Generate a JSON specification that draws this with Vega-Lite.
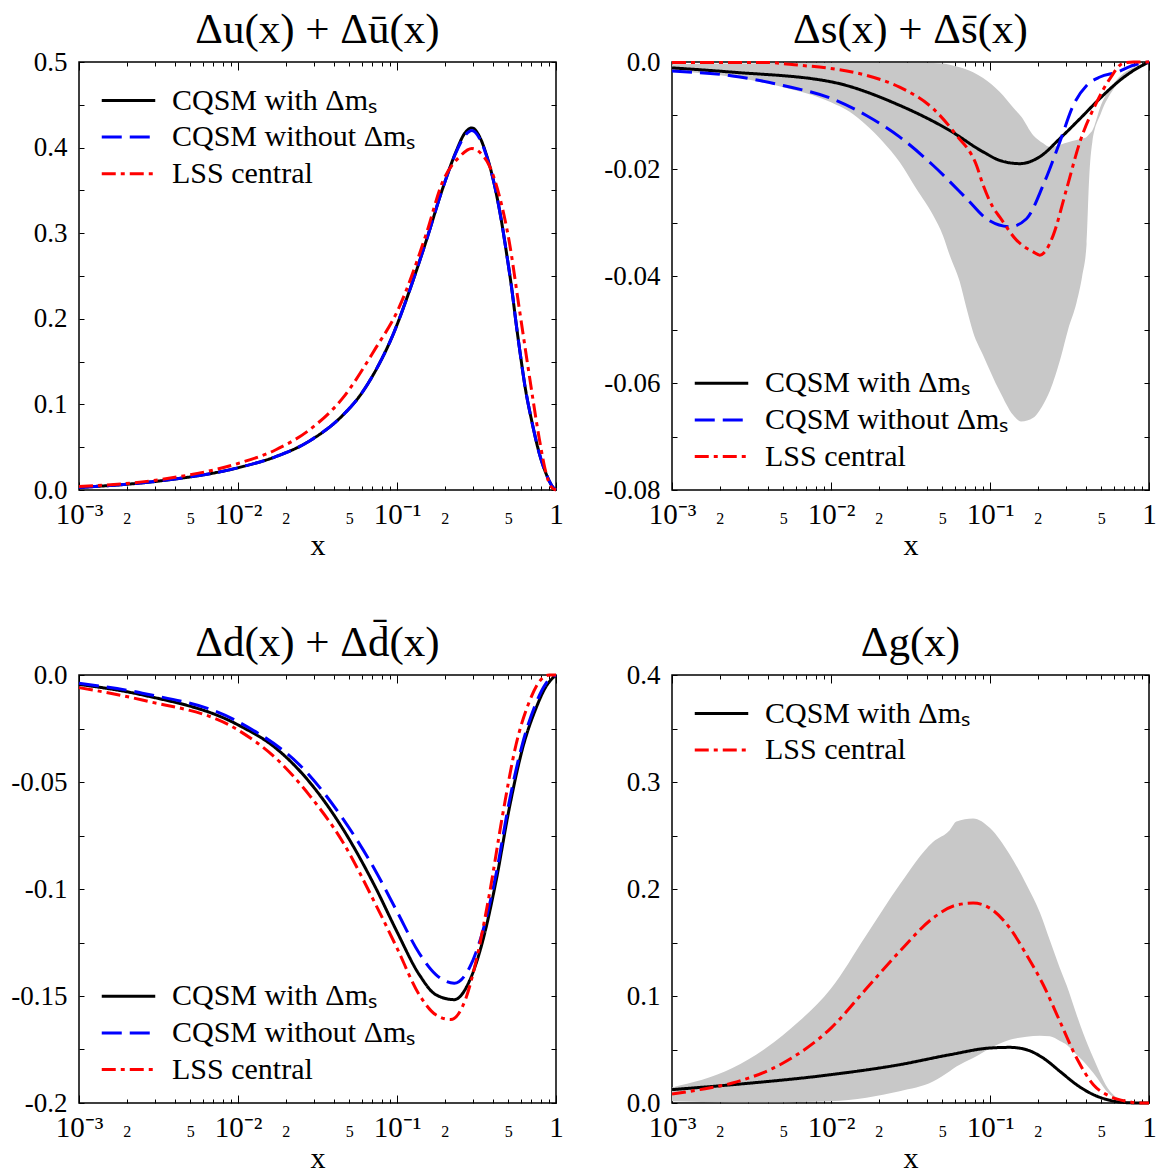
{
  "$schema": "https://vega.github.io/schema/vega-lite/v6.json",
  "padding": {"left": 0, "top": 7, "right": 5, "bottom": 0},
  "config": {
    "font": "Liberation Serif",
    "view": {"stroke": "black", "strokeWidth": 1.5},
    "title": {"font": "Liberation Serif", "fontSize": 43, "fontWeight": "normal", "color": "black", "baseline": "alphabetic", "offset": -3.5, "anchor": "middle"},
    "axis": {"domain": false, "grid": false, "tickColor": "black", "tickWidth": 1, "labelColor": "black", "labelFont": "Liberation Serif", "titleFont": "Liberation Serif", "titleColor": "black", "titleFontWeight": "normal", "labelFlush": false, "labelOverlap": false, "labelBound": false, "zindex": 1},
    "legend": {"labelFont": "Liberation Serif", "labelColor": "black"}
  },
  "datasets": {
    "tl": [
      {"x":0.001,"v":0.003,"s":"with"},{"x":0.00319,"v":0.0105,"s":"with"},{"x":0.01,"v":0.026,"s":"with"},{"x":0.0173,"v":0.039,"s":"with"},{"x":0.028,"v":0.057,"s":"with"},{"x":0.0454,"v":0.087,"s":"with"},{"x":0.0578,"v":0.109,"s":"with"},{"x":0.0736,"v":0.14,"s":"with"},{"x":0.0937,"v":0.18,"s":"with"},{"x":0.1194,"v":0.232,"s":"with"},{"x":0.152,"v":0.29,"s":"with"},{"x":0.1935,"v":0.352,"s":"with"},{"x":0.2347,"v":0.395,"s":"with"},{"x":0.265,"v":0.416,"s":"with"},{"x":0.296,"v":0.423,"s":"with"},{"x":0.33,"v":0.413,"s":"with"},{"x":0.366,"v":0.391,"s":"with"},{"x":0.415,"v":0.352,"s":"with"},{"x":0.455,"v":0.313,"s":"with"},{"x":0.491,"v":0.274,"s":"with"},{"x":0.527,"v":0.235,"s":"with"},{"x":0.56,"v":0.196,"s":"with"},{"x":0.598,"v":0.157,"s":"with"},{"x":0.641,"v":0.119,"s":"with"},{"x":0.705,"v":0.08,"s":"with"},{"x":0.79,"v":0.041,"s":"with"},{"x":0.88,"v":0.016,"s":"with"},{"x":0.95,"v":0.004,"s":"with"},{"x":1,"v":0,"s":"with"},
      {"x":0.001,"v":0.003,"s":"without"},{"x":0.00319,"v":0.0105,"s":"without"},{"x":0.01,"v":0.026,"s":"without"},{"x":0.0173,"v":0.039,"s":"without"},{"x":0.028,"v":0.057,"s":"without"},{"x":0.0454,"v":0.087,"s":"without"},{"x":0.0578,"v":0.109,"s":"without"},{"x":0.0736,"v":0.14,"s":"without"},{"x":0.0937,"v":0.18,"s":"without"},{"x":0.1194,"v":0.232,"s":"without"},{"x":0.152,"v":0.29,"s":"without"},{"x":0.1935,"v":0.352,"s":"without"},{"x":0.2347,"v":0.394,"s":"without"},{"x":0.265,"v":0.413,"s":"without"},{"x":0.296,"v":0.42,"s":"without"},{"x":0.33,"v":0.411,"s":"without"},{"x":0.366,"v":0.39,"s":"without"},{"x":0.415,"v":0.352,"s":"without"},{"x":0.455,"v":0.313,"s":"without"},{"x":0.491,"v":0.274,"s":"without"},{"x":0.527,"v":0.235,"s":"without"},{"x":0.56,"v":0.196,"s":"without"},{"x":0.598,"v":0.157,"s":"without"},{"x":0.641,"v":0.119,"s":"without"},{"x":0.705,"v":0.08,"s":"without"},{"x":0.79,"v":0.041,"s":"without"},{"x":0.88,"v":0.016,"s":"without"},{"x":0.95,"v":0.004,"s":"without"},{"x":1,"v":0,"s":"without"},
      {"x":0.001,"v":0.004,"s":"LSS"},{"x":0.00319,"v":0.012,"s":"LSS"},{"x":0.01,"v":0.031,"s":"LSS"},{"x":0.0173,"v":0.047,"s":"LSS"},{"x":0.028,"v":0.07,"s":"LSS"},{"x":0.0454,"v":0.107,"s":"LSS"},{"x":0.0736,"v":0.166,"s":"LSS"},{"x":0.1,"v":0.208,"s":"LSS"},{"x":0.152,"v":0.298,"s":"LSS"},{"x":0.1935,"v":0.36,"s":"LSS"},{"x":0.2464,"v":0.389,"s":"LSS"},{"x":0.296,"v":0.399,"s":"LSS"},{"x":0.3454,"v":0.391,"s":"LSS"},{"x":0.3805,"v":0.379,"s":"LSS"},{"x":0.4398,"v":0.344,"s":"LSS"},{"x":0.5083,"v":0.29,"s":"LSS"},{"x":0.5876,"v":0.212,"s":"LSS"},{"x":0.6792,"v":0.134,"s":"LSS"},{"x":0.785,"v":0.06,"s":"LSS"},{"x":0.865,"v":0.02,"s":"LSS"},{"x":0.93,"v":0.004,"s":"LSS"},{"x":1,"v":0,"s":"LSS"}
    ],
    "tr": [
      {"x":0.001,"v":-0.0011,"s":"with"},{"x":0.0024,"v":-0.0019,"s":"with"},{"x":0.01,"v":-0.0037,"s":"with"},{"x":0.027,"v":-0.0081,"s":"with"},{"x":0.0558,"v":-0.0128,"s":"with"},{"x":0.0905,"v":-0.0168,"s":"with"},{"x":0.1153,"v":-0.0184,"s":"with"},{"x":0.154,"v":-0.019,"s":"with"},{"x":0.2059,"v":-0.0177,"s":"with"},{"x":0.2752,"v":-0.0143,"s":"with"},{"x":0.368,"v":-0.0106,"s":"with"},{"x":0.4917,"v":-0.0068,"s":"with"},{"x":0.6577,"v":-0.0034,"s":"with"},{"x":0.7978,"v":-0.0016,"s":"with"},{"x":1,"v":0,"s":"with"},
      {"x":0.001,"v":-0.0017,"s":"without"},{"x":0.0024,"v":-0.0026,"s":"without"},{"x":0.005,"v":-0.0044,"s":"without"},{"x":0.01,"v":-0.0068,"s":"without"},{"x":0.0167,"v":-0.01,"s":"without"},{"x":0.027,"v":-0.014,"s":"without"},{"x":0.0438,"v":-0.0193,"s":"without"},{"x":0.0711,"v":-0.0255,"s":"without"},{"x":0.095,"v":-0.0293,"s":"without"},{"x":0.1333,"v":-0.0308,"s":"without"},{"x":0.1697,"v":-0.0293,"s":"without"},{"x":0.2161,"v":-0.023,"s":"without"},{"x":0.2752,"v":-0.0149,"s":"without"},{"x":0.334,"v":-0.0081,"s":"without"},{"x":0.4053,"v":-0.0044,"s":"without"},{"x":0.4917,"v":-0.0028,"s":"without"},{"x":0.63,"v":-0.0019,"s":"without"},{"x":0.7978,"v":-0.0006,"s":"without"},{"x":1,"v":0,"s":"without"},
      {"x":0.001,"v":-0.0001,"s":"LSS"},{"x":0.0039,"v":-0.0001,"s":"LSS"},{"x":0.0063,"v":-0.0006,"s":"LSS"},{"x":0.01,"v":-0.0012,"s":"LSS"},{"x":0.0167,"v":-0.0025,"s":"LSS"},{"x":0.027,"v":-0.0047,"s":"LSS"},{"x":0.0438,"v":-0.0087,"s":"LSS"},{"x":0.0615,"v":-0.0137,"s":"LSS"},{"x":0.0822,"v":-0.0193,"s":"LSS"},{"x":0.0905,"v":-0.023,"s":"LSS"},{"x":0.1046,"v":-0.0272,"s":"LSS"},{"x":0.1153,"v":-0.029,"s":"LSS"},{"x":0.1468,"v":-0.0333,"s":"LSS"},{"x":0.1869,"v":-0.0355,"s":"LSS"},{"x":0.2059,"v":-0.0361,"s":"LSS"},{"x":0.225,"v":-0.0352,"s":"LSS"},{"x":0.2497,"v":-0.0324,"s":"LSS"},{"x":0.3033,"v":-0.0237,"s":"LSS"},{"x":0.368,"v":-0.0149,"s":"LSS"},{"x":0.4691,"v":-0.0075,"s":"LSS"},{"x":0.5684,"v":-0.0031,"s":"LSS"},{"x":0.69,"v":-0.0002,"s":"LSS"},{"x":0.8,"v":0,"s":"LSS"},{"x":1,"v":0,"s":"LSS"}
    ],
    "trB": [
      {"x":0.001,"lo":-0.0017,"hi":-0.0004},{"x":0.0024,"lo":-0.0028,"hi":-0.0003},{"x":0.005,"lo":-0.0047,"hi":-0.0002},{"x":0.01,"lo":-0.0075,"hi":-0.0002},{"x":0.0131,"lo":-0.0093,"hi":-0.0002},{"x":0.0167,"lo":-0.0118,"hi":-0.0002},{"x":0.0212,"lo":-0.0149,"hi":-0.0002},{"x":0.027,"lo":-0.0187,"hi":-0.0002},{"x":0.0344,"lo":-0.0237,"hi":-0.0002},{"x":0.0438,"lo":-0.0286,"hi":-0.0002},{"x":0.0507,"lo":-0.0325,"hi":-0.0003},{"x":0.0558,"lo":-0.0361,"hi":-0.0005},{"x":0.0644,"lo":-0.041,"hi":-0.001},{"x":0.0711,"lo":-0.046,"hi":-0.0014},{"x":0.0783,"lo":-0.0505,"hi":-0.0019},{"x":0.0905,"lo":-0.0548,"hi":-0.003},{"x":0.1153,"lo":-0.0616,"hi":-0.0056},{"x":0.1398,"lo":-0.066,"hi":-0.0085},{"x":0.157,"lo":-0.0672,"hi":-0.0102},{"x":0.1869,"lo":-0.0665,"hi":-0.0137},{"x":0.2161,"lo":-0.064,"hi":-0.0152},{"x":0.2379,"lo":-0.0615,"hi":-0.0159},{"x":0.28,"lo":-0.055,"hi":-0.0154},{"x":0.31,"lo":-0.05,"hi":-0.015},{"x":0.35,"lo":-0.045,"hi":-0.0146},{"x":0.38,"lo":-0.04,"hi":-0.0143},{"x":0.405,"lo":-0.034,"hi":-0.014},{"x":0.42,"lo":-0.022,"hi":-0.0135},{"x":0.44,"lo":-0.015,"hi":-0.0128},{"x":0.5,"lo":-0.0095,"hi":-0.008},{"x":0.6,"lo":-0.005,"hi":-0.004},{"x":0.8,"lo":-0.0015,"hi":-0.001},{"x":1,"lo":0,"hi":0}
    ],
    "bl": [
      {"x":0.001,"v":-0.0044,"s":"with"},{"x":0.0025,"v":-0.0093,"s":"with"},{"x":0.01,"v":-0.0233,"s":"with"},{"x":0.0173,"v":-0.0342,"s":"with"},{"x":0.028,"v":-0.0498,"s":"with"},{"x":0.0454,"v":-0.0716,"s":"with"},{"x":0.0736,"v":-0.0996,"s":"with"},{"x":0.1,"v":-0.12,"s":"with"},{"x":0.138,"v":-0.14,"s":"with"},{"x":0.1756,"v":-0.1494,"s":"with"},{"x":0.2291,"v":-0.1517,"s":"with"},{"x":0.2847,"v":-0.1432,"s":"with"},{"x":0.3454,"v":-0.1245,"s":"with"},{"x":0.4191,"v":-0.0965,"s":"with"},{"x":0.5083,"v":-0.0623,"s":"with"},{"x":0.6166,"v":-0.0342,"s":"with"},{"x":0.748,"v":-0.0156,"s":"with"},{"x":0.865,"v":-0.0054,"s":"with"},{"x":1,"v":0,"s":"with"},
      {"x":0.001,"v":-0.0039,"s":"without"},{"x":0.0025,"v":-0.0085,"s":"without"},{"x":0.01,"v":-0.0218,"s":"without"},{"x":0.028,"v":-0.0467,"s":"without"},{"x":0.0454,"v":-0.0669,"s":"without"},{"x":0.0736,"v":-0.0918,"s":"without"},{"x":0.1,"v":-0.1105,"s":"without"},{"x":0.138,"v":-0.13,"s":"without"},{"x":0.1756,"v":-0.14,"s":"without"},{"x":0.2291,"v":-0.144,"s":"without"},{"x":0.2847,"v":-0.137,"s":"without"},{"x":0.3454,"v":-0.12,"s":"without"},{"x":0.4191,"v":-0.0934,"s":"without"},{"x":0.5083,"v":-0.0591,"s":"without"},{"x":0.6166,"v":-0.0319,"s":"without"},{"x":0.748,"v":-0.0132,"s":"without"},{"x":0.865,"v":-0.0039,"s":"without"},{"x":1,"v":0,"s":"without"},
      {"x":0.001,"v":-0.0059,"s":"LSS"},{"x":0.0025,"v":-0.0117,"s":"LSS"},{"x":0.01,"v":-0.0257,"s":"LSS"},{"x":0.0173,"v":-0.0389,"s":"LSS"},{"x":0.028,"v":-0.056,"s":"LSS"},{"x":0.0454,"v":-0.0778,"s":"LSS"},{"x":0.0736,"v":-0.1074,"s":"LSS"},{"x":0.1,"v":-0.1276,"s":"LSS"},{"x":0.138,"v":-0.1494,"s":"LSS"},{"x":0.1756,"v":-0.1588,"s":"LSS"},{"x":0.2183,"v":-0.161,"s":"LSS"},{"x":0.2713,"v":-0.151,"s":"LSS"},{"x":0.3135,"v":-0.134,"s":"LSS"},{"x":0.3805,"v":-0.1027,"s":"LSS"},{"x":0.4616,"v":-0.0654,"s":"LSS"},{"x":0.56,"v":-0.0327,"s":"LSS"},{"x":0.6792,"v":-0.0125,"s":"LSS"},{"x":0.7852,"v":-0.0031,"s":"LSS"},{"x":0.9075,"v":0,"s":"LSS"},{"x":1,"v":0,"s":"LSS"}
    ],
    "br": [
      {"x":0.001,"v":0.0125,"s":"with"},{"x":0.0024,"v":0.0171,"s":"with"},{"x":0.01,"v":0.0265,"s":"with"},{"x":0.027,"v":0.0358,"s":"with"},{"x":0.0558,"v":0.0451,"s":"with"},{"x":0.1,"v":0.0514,"s":"with"},{"x":0.1333,"v":0.052,"s":"with"},{"x":0.1697,"v":0.0498,"s":"with"},{"x":0.2161,"v":0.042,"s":"with"},{"x":0.2752,"v":0.0296,"s":"with"},{"x":0.3505,"v":0.0171,"s":"with"},{"x":0.4468,"v":0.0078,"s":"with"},{"x":0.5684,"v":0.0025,"s":"with"},{"x":0.7237,"v":0.0003,"s":"with"},{"x":0.85,"v":0,"s":"with"},{"x":1,"v":0,"s":"with"},
      {"x":0.001,"v":0.0084,"s":"LSS"},{"x":0.0015,"v":0.0125,"s":"LSS"},{"x":0.0024,"v":0.0187,"s":"LSS"},{"x":0.005,"v":0.0374,"s":"LSS"},{"x":0.01,"v":0.07,"s":"LSS"},{"x":0.0167,"v":0.107,"s":"LSS"},{"x":0.027,"v":0.1416,"s":"LSS"},{"x":0.0438,"v":0.1728,"s":"LSS"},{"x":0.0615,"v":0.185,"s":"LSS"},{"x":0.0783,"v":0.1868,"s":"LSS"},{"x":0.1,"v":0.182,"s":"LSS"},{"x":0.1333,"v":0.1634,"s":"LSS"},{"x":0.1697,"v":0.1385,"s":"LSS"},{"x":0.2161,"v":0.1105,"s":"LSS"},{"x":0.2752,"v":0.0763,"s":"LSS"},{"x":0.3505,"v":0.042,"s":"LSS"},{"x":0.4468,"v":0.0171,"s":"LSS"},{"x":0.5684,"v":0.0062,"s":"LSS"},{"x":0.7237,"v":0.0016,"s":"LSS"},{"x":0.85,"v":0,"s":"LSS"},{"x":1,"v":0,"s":"LSS"}
    ],
    "brB": [
      {"x":0.001,"lo":0.0016,"hi":0.0146},{"x":0.0024,"lo":0.0006,"hi":0.0327},{"x":0.0039,"lo":0.0006,"hi":0.0514},{"x":0.0063,"lo":0.001,"hi":0.0763},{"x":0.01,"lo":0.0016,"hi":0.107},{"x":0.0167,"lo":0.005,"hi":0.157},{"x":0.027,"lo":0.011,"hi":0.204},{"x":0.0438,"lo":0.02,"hi":0.244},{"x":0.0558,"lo":0.0296,"hi":0.255},{"x":0.0615,"lo":0.034,"hi":0.263},{"x":0.0783,"lo":0.042,"hi":0.266},{"x":0.1,"lo":0.051,"hi":0.257},{"x":0.1333,"lo":0.059,"hi":0.232},{"x":0.1697,"lo":0.062,"hi":0.204},{"x":0.2059,"lo":0.0629,"hi":0.178},{"x":0.2379,"lo":0.0623,"hi":0.152},{"x":0.2752,"lo":0.058,"hi":0.126},{"x":0.3033,"lo":0.0545,"hi":0.11},{"x":0.3505,"lo":0.045,"hi":0.0825},{"x":0.3862,"lo":0.039,"hi":0.065},{"x":0.4468,"lo":0.028,"hi":0.042},{"x":0.5684,"lo":0.0078,"hi":0.011},{"x":0.7237,"lo":0.001,"hi":0.0016},{"x":1,"lo":0,"hi":0}
    ]
  },
  "columns": 2,
  "spacing": {"row": 185, "column": 116},
  "bounds": "flush",
  "resolve": {"scale": {"color": "independent", "strokeDash": "independent"}, "legend": {"color": "independent", "strokeDash": "independent"}},
  "concat": [
    {
      "width": 477, "height": 428,
      "title": {"text": "Δu(x) + Δū(x)"},
      "data": {"name": "tl"},
      "layer": [
        {
          "mark": {"type": "line", "strokeWidth": 3, "interpolate": "monotone"},
          "encoding": {
            "x": {"field": "x", "type": "quantitative", "scale": {"type": "log", "domain": [0.001, 1], "nice": false},
              "axis": {"orient": "bottom", "values": [0.001,0.002,0.005,0.01,0.02,0.05,0.1,0.2,0.5,1], "labelExpr": "datum.value==0.001?'10⁻³':datum.value==0.01?'10⁻²':datum.value==0.1?'10⁻¹':datum.value==1?'1':(datum.value==0.002||datum.value==0.02||datum.value==0.2)?'2':'5'", "ticks": false, "tickSize": 0, "labelFont": "Liberation Serif", "labelFontSize": {"condition": {"test": "datum.value==0.001||datum.value==0.01||datum.value==0.1||datum.value==1", "value": 29}, "value": 16}, "labelBaseline": "alphabetic", "labelPadding": 33, "labelAlign": "center", "title": "x", "titleFont": "Liberation Serif", "titleFontSize": 30, "titlePadding": 1}},
            "y": {"field": "v", "type": "quantitative", "scale": {"domain": [0, 0.5], "nice": false, "zero": false},
              "axis": {"orient": "left", "values": [0,0.1,0.2,0.3,0.4,0.5], "labelExpr": "format(datum.value,'.1f')", "ticks": false, "tickSize": 0, "labelFont": "Liberation Serif", "labelFontSize": 27, "labelPadding": 12, "title": null, "minExtent": 78}},
            "color": {"field": "s", "type": "nominal", "scale": {"domain": ["with","without","LSS"], "range": ["#000000","#0000ff","#ff0000"]},
              "legend": {"orient": "none", "legendX": 21, "legendY": 21.5, "title": null, "symbolType": "stroke", "symbolSize": 2862, "symbolStrokeWidth": 3, "labelFont": "Liberation Serif", "labelFontSize": 30, "labelOffset": 15, "clipHeight": 34, "rowPadding": 2.6, "padding": 0, "labelLimit": 0, "labelExpr": "datum.label=='with'?'CQSM with Δmₛ':datum.label=='without'?'CQSM without Δmₛ':'LSS central'"}},
            "strokeDash": {"field": "s", "type": "nominal", "scale": {"domain": ["with","without","LSS"], "range": [[1,0],[20,8],[14,5,4,5]]},
              "legend": {"orient": "none", "legendX": 21, "legendY": 21.5, "title": null, "symbolType": "stroke", "symbolSize": 2862, "symbolStrokeWidth": 3, "labelFont": "Liberation Serif", "labelFontSize": 30, "labelOffset": 15, "clipHeight": 34, "rowPadding": 2.6, "padding": 0, "labelLimit": 0, "labelExpr": "datum.label=='with'?'CQSM with Δmₛ':datum.label=='without'?'CQSM without Δmₛ':'LSS central'"}}
          }
        },
        {
          "mark": {"type": "point", "opacity": 0},
          "encoding": {
            "x": {"field": "x", "type": "quantitative", "scale": {"type": "log", "domain": [0.001, 1], "nice": false},
              "axis": {"orient": "bottom", "values": [0.001,0.002,0.003,0.004,0.005,0.006,0.007,0.008,0.009,0.01,0.02,0.03,0.04,0.05,0.06,0.07,0.08,0.09,0.1,0.2,0.3,0.4,0.5,0.6,0.7,0.8,0.9,1], "labels": false, "tickSize": {"condition": {"test": "datum.value==0.001||datum.value==0.01||datum.value==0.1||datum.value==1", "value": -8}, "value": -4}, "title": null}},
            "y": {"field": "v", "type": "quantitative", "scale": {"domain": [0, 0.5], "nice": false, "zero": false},
              "axis": {"orient": "left", "values": [0,0.05,0.1,0.15,0.2,0.25,0.3,0.35,0.4,0.45,0.5], "labels": false, "tickSize": -5, "title": null}}
          }
        },
        {
          "mark": {"type": "point", "opacity": 0},
          "encoding": {
            "x": {"field": "x", "type": "quantitative", "scale": {"type": "log", "domain": [0.001, 1], "nice": false},
              "axis": {"orient": "top", "values": [0.001,0.002,0.003,0.004,0.005,0.006,0.007,0.008,0.009,0.01,0.02,0.03,0.04,0.05,0.06,0.07,0.08,0.09,0.1,0.2,0.3,0.4,0.5,0.6,0.7,0.8,0.9,1], "labels": false, "tickSize": {"condition": {"test": "datum.value==0.001||datum.value==0.01||datum.value==0.1||datum.value==1", "value": -8}, "value": -4}, "title": null}},
            "y": {"field": "v", "type": "quantitative", "scale": {"domain": [0, 0.5], "nice": false, "zero": false},
              "axis": {"orient": "right", "values": [0,0.05,0.1,0.15,0.2,0.25,0.3,0.35,0.4,0.45,0.5], "labels": false, "tickSize": -5, "title": null}}
          }
        }
      ],
      "resolve": {"axis": {"x": "independent", "y": "independent"}}
    },
    {
      "width": 477, "height": 428,
      "title": {"text": "Δs(x) + Δs̄(x)"},
      "layer": [
        {
          "data": {"name": "trB"},
          "mark": {"type": "area", "color": "#c8c8c8", "interpolate": "monotone"},
          "encoding": {
            "x": {"field": "x", "type": "quantitative", "scale": {"type": "log", "domain": [0.001, 1], "nice": false}, "axis": null},
            "y": {"field": "lo", "type": "quantitative", "scale": {"domain": [-0.08, 0], "nice": false, "zero": false}, "axis": null},
            "y2": {"field": "hi"}
          }
        },
        {
          "data": {"name": "tr"},
          "mark": {"type": "line", "strokeWidth": 3, "interpolate": "monotone"},
          "encoding": {
            "x": {"field": "x", "type": "quantitative", "scale": {"type": "log", "domain": [0.001, 1], "nice": false},
              "axis": {"orient": "bottom", "values": [0.001,0.002,0.005,0.01,0.02,0.05,0.1,0.2,0.5,1], "labelExpr": "datum.value==0.001?'10⁻³':datum.value==0.01?'10⁻²':datum.value==0.1?'10⁻¹':datum.value==1?'1':(datum.value==0.002||datum.value==0.02||datum.value==0.2)?'2':'5'", "ticks": false, "tickSize": 0, "labelFont": "Liberation Serif", "labelFontSize": {"condition": {"test": "datum.value==0.001||datum.value==0.01||datum.value==0.1||datum.value==1", "value": 29}, "value": 16}, "labelBaseline": "alphabetic", "labelPadding": 33, "labelAlign": "center", "title": "x", "titleFont": "Liberation Serif", "titleFontSize": 30, "titlePadding": 1}},
            "y": {"field": "v", "type": "quantitative", "scale": {"domain": [-0.08, 0], "nice": false, "zero": false},
              "axis": {"orient": "left", "values": [0,-0.02,-0.04,-0.06,-0.08], "labelExpr": "datum.value==0?'0.0':'-'+format(abs(datum.value),'.2f')", "ticks": false, "tickSize": 0, "labelFont": "Liberation Serif", "labelFontSize": 27, "labelPadding": 12, "title": null, "minExtent": 78}},
            "color": {"field": "s", "type": "nominal", "scale": {"domain": ["with","without","LSS"], "range": ["#000000","#0000ff","#ff0000"]},
              "legend": {"orient": "none", "legendX": 21, "legendY": 304.3, "title": null, "symbolType": "stroke", "symbolSize": 2862, "symbolStrokeWidth": 3, "labelFont": "Liberation Serif", "labelFontSize": 30, "labelOffset": 15, "clipHeight": 34, "rowPadding": 2.6, "padding": 0, "labelLimit": 0, "labelExpr": "datum.label=='with'?'CQSM with Δmₛ':datum.label=='without'?'CQSM without Δmₛ':'LSS central'"}},
            "strokeDash": {"field": "s", "type": "nominal", "scale": {"domain": ["with","without","LSS"], "range": [[1,0],[20,8],[14,5,4,5]]},
              "legend": {"orient": "none", "legendX": 21, "legendY": 304.3, "title": null, "symbolType": "stroke", "symbolSize": 2862, "symbolStrokeWidth": 3, "labelFont": "Liberation Serif", "labelFontSize": 30, "labelOffset": 15, "clipHeight": 34, "rowPadding": 2.6, "padding": 0, "labelLimit": 0, "labelExpr": "datum.label=='with'?'CQSM with Δmₛ':datum.label=='without'?'CQSM without Δmₛ':'LSS central'"}}
          }
        },
        {
          "data": {"name": "tr"},
          "mark": {"type": "point", "opacity": 0},
          "encoding": {
            "x": {"field": "x", "type": "quantitative", "scale": {"type": "log", "domain": [0.001, 1], "nice": false},
              "axis": {"orient": "bottom", "values": [0.001,0.002,0.003,0.004,0.005,0.006,0.007,0.008,0.009,0.01,0.02,0.03,0.04,0.05,0.06,0.07,0.08,0.09,0.1,0.2,0.3,0.4,0.5,0.6,0.7,0.8,0.9,1], "labels": false, "tickSize": {"condition": {"test": "datum.value==0.001||datum.value==0.01||datum.value==0.1||datum.value==1", "value": -8}, "value": -4}, "title": null}},
            "y": {"field": "v", "type": "quantitative", "scale": {"domain": [-0.08, 0], "nice": false, "zero": false},
              "axis": {"orient": "left", "values": [0,-0.01,-0.02,-0.03,-0.04,-0.05,-0.06,-0.07,-0.08], "labels": false, "tickSize": -5, "title": null}}
          }
        },
        {
          "data": {"name": "tr"},
          "mark": {"type": "point", "opacity": 0},
          "encoding": {
            "x": {"field": "x", "type": "quantitative", "scale": {"type": "log", "domain": [0.001, 1], "nice": false},
              "axis": {"orient": "top", "values": [0.001,0.002,0.003,0.004,0.005,0.006,0.007,0.008,0.009,0.01,0.02,0.03,0.04,0.05,0.06,0.07,0.08,0.09,0.1,0.2,0.3,0.4,0.5,0.6,0.7,0.8,0.9,1], "labels": false, "tickSize": {"condition": {"test": "datum.value==0.001||datum.value==0.01||datum.value==0.1||datum.value==1", "value": -8}, "value": -4}, "title": null}},
            "y": {"field": "v", "type": "quantitative", "scale": {"domain": [-0.08, 0], "nice": false, "zero": false},
              "axis": {"orient": "right", "values": [0,-0.01,-0.02,-0.03,-0.04,-0.05,-0.06,-0.07,-0.08], "labels": false, "tickSize": -5, "title": null}}
          }
        }
      ],
      "resolve": {"axis": {"x": "independent", "y": "independent"}}
    },
    {
      "width": 477, "height": 428,
      "title": {"text": "Δd(x) + Δd̄(x)"},
      "data": {"name": "bl"},
      "layer": [
        {
          "mark": {"type": "line", "strokeWidth": 3, "interpolate": "monotone"},
          "encoding": {
            "x": {"field": "x", "type": "quantitative", "scale": {"type": "log", "domain": [0.001, 1], "nice": false},
              "axis": {"orient": "bottom", "values": [0.001,0.002,0.005,0.01,0.02,0.05,0.1,0.2,0.5,1], "labelExpr": "datum.value==0.001?'10⁻³':datum.value==0.01?'10⁻²':datum.value==0.1?'10⁻¹':datum.value==1?'1':(datum.value==0.002||datum.value==0.02||datum.value==0.2)?'2':'5'", "ticks": false, "tickSize": 0, "labelFont": "Liberation Serif", "labelFontSize": {"condition": {"test": "datum.value==0.001||datum.value==0.01||datum.value==0.1||datum.value==1", "value": 29}, "value": 16}, "labelBaseline": "alphabetic", "labelPadding": 33, "labelAlign": "center", "title": "x", "titleFont": "Liberation Serif", "titleFontSize": 30, "titlePadding": 1}},
            "y": {"field": "v", "type": "quantitative", "scale": {"domain": [-0.2, 0], "nice": false, "zero": false},
              "axis": {"orient": "left", "values": [0,-0.05,-0.1,-0.15,-0.2], "labelExpr": "datum.value==0?'0.0':'-'+format(abs(datum.value),'~g')", "ticks": false, "tickSize": 0, "labelFont": "Liberation Serif", "labelFontSize": 27, "labelPadding": 12, "title": null, "minExtent": 78}},
            "color": {"field": "s", "type": "nominal", "scale": {"domain": ["with","without","LSS"], "range": ["#000000","#0000ff","#ff0000"]},
              "legend": {"orient": "none", "legendX": 21, "legendY": 304.3, "title": null, "symbolType": "stroke", "symbolSize": 2862, "symbolStrokeWidth": 3, "labelFont": "Liberation Serif", "labelFontSize": 30, "labelOffset": 15, "clipHeight": 34, "rowPadding": 2.6, "padding": 0, "labelLimit": 0, "labelExpr": "datum.label=='with'?'CQSM with Δmₛ':datum.label=='without'?'CQSM without Δmₛ':'LSS central'"}},
            "strokeDash": {"field": "s", "type": "nominal", "scale": {"domain": ["with","without","LSS"], "range": [[1,0],[20,8],[14,5,4,5]]},
              "legend": {"orient": "none", "legendX": 21, "legendY": 304.3, "title": null, "symbolType": "stroke", "symbolSize": 2862, "symbolStrokeWidth": 3, "labelFont": "Liberation Serif", "labelFontSize": 30, "labelOffset": 15, "clipHeight": 34, "rowPadding": 2.6, "padding": 0, "labelLimit": 0, "labelExpr": "datum.label=='with'?'CQSM with Δmₛ':datum.label=='without'?'CQSM without Δmₛ':'LSS central'"}}
          }
        },
        {
          "mark": {"type": "point", "opacity": 0},
          "encoding": {
            "x": {"field": "x", "type": "quantitative", "scale": {"type": "log", "domain": [0.001, 1], "nice": false},
              "axis": {"orient": "bottom", "values": [0.001,0.002,0.003,0.004,0.005,0.006,0.007,0.008,0.009,0.01,0.02,0.03,0.04,0.05,0.06,0.07,0.08,0.09,0.1,0.2,0.3,0.4,0.5,0.6,0.7,0.8,0.9,1], "labels": false, "tickSize": {"condition": {"test": "datum.value==0.001||datum.value==0.01||datum.value==0.1||datum.value==1", "value": -8}, "value": -4}, "title": null}},
            "y": {"field": "v", "type": "quantitative", "scale": {"domain": [-0.2, 0], "nice": false, "zero": false},
              "axis": {"orient": "left", "values": [0,-0.025,-0.05,-0.075,-0.1,-0.125,-0.15,-0.175,-0.2], "labels": false, "tickSize": -5, "title": null}}
          }
        },
        {
          "mark": {"type": "point", "opacity": 0},
          "encoding": {
            "x": {"field": "x", "type": "quantitative", "scale": {"type": "log", "domain": [0.001, 1], "nice": false},
              "axis": {"orient": "top", "values": [0.001,0.002,0.003,0.004,0.005,0.006,0.007,0.008,0.009,0.01,0.02,0.03,0.04,0.05,0.06,0.07,0.08,0.09,0.1,0.2,0.3,0.4,0.5,0.6,0.7,0.8,0.9,1], "labels": false, "tickSize": {"condition": {"test": "datum.value==0.001||datum.value==0.01||datum.value==0.1||datum.value==1", "value": -8}, "value": -4}, "title": null}},
            "y": {"field": "v", "type": "quantitative", "scale": {"domain": [-0.2, 0], "nice": false, "zero": false},
              "axis": {"orient": "right", "values": [0,-0.025,-0.05,-0.075,-0.1,-0.125,-0.15,-0.175,-0.2], "labels": false, "tickSize": -5, "title": null}}
          }
        }
      ],
      "resolve": {"axis": {"x": "independent", "y": "independent"}}
    },
    {
      "width": 477, "height": 428,
      "title": {"text": "Δg(x)"},
      "layer": [
        {
          "data": {"name": "brB"},
          "mark": {"type": "area", "color": "#c8c8c8", "interpolate": "monotone"},
          "encoding": {
            "x": {"field": "x", "type": "quantitative", "scale": {"type": "log", "domain": [0.001, 1], "nice": false}, "axis": null},
            "y": {"field": "lo", "type": "quantitative", "scale": {"domain": [0, 0.4], "nice": false, "zero": false}, "axis": null},
            "y2": {"field": "hi"}
          }
        },
        {
          "data": {"name": "br"},
          "mark": {"type": "line", "strokeWidth": 3, "interpolate": "monotone"},
          "encoding": {
            "x": {"field": "x", "type": "quantitative", "scale": {"type": "log", "domain": [0.001, 1], "nice": false},
              "axis": {"orient": "bottom", "values": [0.001,0.002,0.005,0.01,0.02,0.05,0.1,0.2,0.5,1], "labelExpr": "datum.value==0.001?'10⁻³':datum.value==0.01?'10⁻²':datum.value==0.1?'10⁻¹':datum.value==1?'1':(datum.value==0.002||datum.value==0.02||datum.value==0.2)?'2':'5'", "ticks": false, "tickSize": 0, "labelFont": "Liberation Serif", "labelFontSize": {"condition": {"test": "datum.value==0.001||datum.value==0.01||datum.value==0.1||datum.value==1", "value": 29}, "value": 16}, "labelBaseline": "alphabetic", "labelPadding": 33, "labelAlign": "center", "title": "x", "titleFont": "Liberation Serif", "titleFontSize": 30, "titlePadding": 1}},
            "y": {"field": "v", "type": "quantitative", "scale": {"domain": [0, 0.4], "nice": false, "zero": false},
              "axis": {"orient": "left", "values": [0,0.1,0.2,0.3,0.4], "labelExpr": "format(datum.value,'.1f')", "ticks": false, "tickSize": 0, "labelFont": "Liberation Serif", "labelFontSize": 27, "labelPadding": 12, "title": null, "minExtent": 78}},
            "color": {"field": "s", "type": "nominal", "scale": {"domain": ["with","LSS"], "range": ["#000000","#ff0000"]},
              "legend": {"orient": "none", "legendX": 21, "legendY": 21.5, "title": null, "symbolType": "stroke", "symbolSize": 2862, "symbolStrokeWidth": 3, "labelFont": "Liberation Serif", "labelFontSize": 30, "labelOffset": 15, "clipHeight": 34, "rowPadding": 2.6, "padding": 0, "labelLimit": 0, "labelExpr": "datum.label=='with'?'CQSM with Δmₛ':'LSS central'"}},
            "strokeDash": {"field": "s", "type": "nominal", "scale": {"domain": ["with","LSS"], "range": [[1,0],[14,5,4,5]]},
              "legend": {"orient": "none", "legendX": 21, "legendY": 21.5, "title": null, "symbolType": "stroke", "symbolSize": 2862, "symbolStrokeWidth": 3, "labelFont": "Liberation Serif", "labelFontSize": 30, "labelOffset": 15, "clipHeight": 34, "rowPadding": 2.6, "padding": 0, "labelLimit": 0, "labelExpr": "datum.label=='with'?'CQSM with Δmₛ':'LSS central'"}}
          }
        },
        {
          "data": {"name": "br"},
          "mark": {"type": "point", "opacity": 0},
          "encoding": {
            "x": {"field": "x", "type": "quantitative", "scale": {"type": "log", "domain": [0.001, 1], "nice": false},
              "axis": {"orient": "bottom", "values": [0.001,0.002,0.003,0.004,0.005,0.006,0.007,0.008,0.009,0.01,0.02,0.03,0.04,0.05,0.06,0.07,0.08,0.09,0.1,0.2,0.3,0.4,0.5,0.6,0.7,0.8,0.9,1], "labels": false, "tickSize": {"condition": {"test": "datum.value==0.001||datum.value==0.01||datum.value==0.1||datum.value==1", "value": -8}, "value": -4}, "title": null}},
            "y": {"field": "v", "type": "quantitative", "scale": {"domain": [0, 0.4], "nice": false, "zero": false},
              "axis": {"orient": "left", "values": [0,0.05,0.1,0.15,0.2,0.25,0.3,0.35,0.4], "labels": false, "tickSize": -5, "title": null}}
          }
        },
        {
          "data": {"name": "br"},
          "mark": {"type": "point", "opacity": 0},
          "encoding": {
            "x": {"field": "x", "type": "quantitative", "scale": {"type": "log", "domain": [0.001, 1], "nice": false},
              "axis": {"orient": "top", "values": [0.001,0.002,0.003,0.004,0.005,0.006,0.007,0.008,0.009,0.01,0.02,0.03,0.04,0.05,0.06,0.07,0.08,0.09,0.1,0.2,0.3,0.4,0.5,0.6,0.7,0.8,0.9,1], "labels": false, "tickSize": {"condition": {"test": "datum.value==0.001||datum.value==0.01||datum.value==0.1||datum.value==1", "value": -8}, "value": -4}, "title": null}},
            "y": {"field": "v", "type": "quantitative", "scale": {"domain": [0, 0.4], "nice": false, "zero": false},
              "axis": {"orient": "right", "values": [0,0.05,0.1,0.15,0.2,0.25,0.3,0.35,0.4], "labels": false, "tickSize": -5, "title": null}}
          }
        }
      ],
      "resolve": {"axis": {"x": "independent", "y": "independent"}}
    }
  ]
}
